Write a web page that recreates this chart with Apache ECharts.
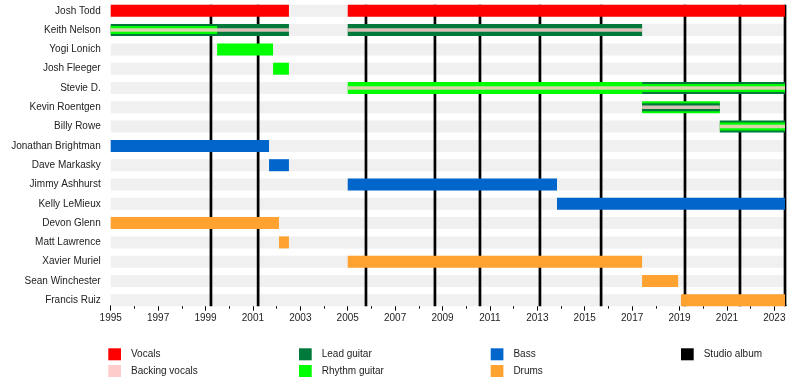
<!DOCTYPE html>
<html>
<head>
<meta charset="utf-8">
<script src="https://cdn.jsdelivr.net/npm/echarts@6/dist/echarts.min.js"></script>
<style>
html,body{margin:0;padding:0;background:#fff;}
#chart{width:800px;height:385px;}
</style>
</head>
<body>
<div id="chart"></div>
<script>
// ---- data ----
const members = ["Josh Todd","Keith Nelson","Yogi Lonich","Josh Fleeger","Stevie D.","Kevin Roentgen","Billy Rowe","Jonathan Brightman","Dave Markasky","Jimmy Ashhurst","Kelly LeMieux","Devon Glenn","Matt Lawrence","Xavier Muriel","Sean Winchester","Francis Ruiz"];
const yearMin = 1995;
const yearMax = 2023.5;
const tickLabels = [1995,1997,1999,2001,2003,2005,2007,2009,2011,2013,2015,2017,2019,2021,2023];
const minorTicks = [1996,1998,2000,2002,2004,2006,2008,2010,2012,2014,2016,2018,2020,2022];
const vocals = [["Josh Todd",1995,2002.52],["Josh Todd",2005,2023.45]];
const leadGuitar = [["Keith Nelson",1995,2002.52],["Keith Nelson",2005,2017.42],["Stevie D.",2017.42,2023.45],["Billy Rowe",2020.7,2023.45]];
const rhythmGuitar = [["Yogi Lonich",1999.49,2001.85],["Josh Fleeger",2001.85,2002.52],["Stevie D.",2005,2017.42],["Kevin Roentgen",2017.42,2020.7]];
const leadGuitarSecondary = [["Kevin Roentgen",2017.42,2020.7]];
const rhythmGuitarSecondary = [["Keith Nelson",1995,1999.49],["Stevie D.",2017.42,2023.45],["Billy Rowe",2020.7,2023.45]];
const backingVocals = [["Keith Nelson",1995,2002.52],["Keith Nelson",2005,2017.42],["Stevie D.",2005,2023.45],["Kevin Roentgen",2017.42,2020.7],["Billy Rowe",2020.7,2023.45]];
const bass = [["Jonathan Brightman",1995,2001.68],["Dave Markasky",2001.68,2002.52],["Jimmy Ashhurst",2005,2013.83],["Kelly LeMieux",2013.83,2023.45]];
const drums = [["Devon Glenn",1995,2002.1],["Matt Lawrence",2002.1,2002.52],["Xavier Muriel",2005,2017.42],["Sean Winchester",2017.42,2018.94],["Francis Ruiz",2019.06,2023.45]];
const studioAlbums = [1999.23,2001.22,2005.77,2008.68,2010.58,2013.11,2015.69,2019.23,2021.55,2023.45];

// ---- styles ----
const COLORS = {
  vocals:'#FF0000', backing:'#FFCCCC', lead:'#007A3A', rhythm:'#00FF00',
  bass:'#0066CC', drums:'#FFA230', album:'#000000', band:'#F0F0F0'
};
const BAR_H = 12, INNER_H = 8, BACK_H = 3.5;
const FONT = "'Liberation Sans', Arial, sans-serif";

function barSeries(name, data, color, h, z, fillOverride){
  return {
    type:'custom', name:name, data:data, z:z, encode:{x:[1,2], y:0},
    itemStyle:{color:color}, silent:true,
    renderItem:function(params, api){
      const c = api.value(0);
      const p0 = api.coord([api.value(1), c]);
      const p1 = api.coord([api.value(2), c]);
      return {type:'rect', shape:{x:p0[0], y:p0[1]-h/2, width:p1[0]-p0[0], height:h},
              style:{fill:fillOverride || color}};
    }
  };
}

const bandSeries = {
  type:'custom', name:'bands', z:1, silent:true,
  data: members.map(m => [m, yearMin, yearMax]),
  encode:{x:[1,2], y:0},
  renderItem:function(params, api){
    const c = api.value(0);
    const p0 = api.coord([api.value(1), c]);
    const p1 = api.coord([api.value(2), c]);
    return {type:'rect', shape:{x:p0[0], y:p0[1]-BAR_H/2, width:p1[0]-p0[0], height:BAR_H}, style:{fill:COLORS.band}};
  }
};

const albumSeries = {
  type:'custom', name:'Studio album', z:2, silent:true,
  itemStyle:{color:COLORS.album},
  data: studioAlbums.map(y => [y, members[0]]),
  encode:{x:0, y:1},
  renderItem:function(params, api){
    const x = api.value(0);
    const top = api.coord([x, 0]);
    const bot = api.coord([x, members.length-1]);
    return {type:'line', shape:{x1:top[0], y1:top[1]-BAR_H/2, x2:bot[0], y2:bot[1]+BAR_H/2},
            style:{stroke:COLORS.album, lineWidth:2.7}};
  }
};

const series = [
  bandSeries,
  albumSeries,
  barSeries('Vocals', vocals, COLORS.vocals, BAR_H, 3),
  barSeries('Lead guitar', leadGuitar, COLORS.lead, BAR_H, 3),
  barSeries('Rhythm guitar', rhythmGuitar, COLORS.rhythm, BAR_H, 3),
  barSeries('Bass', bass, COLORS.bass, BAR_H, 3),
  barSeries('Drums', drums, COLORS.drums, BAR_H, 3),
  barSeries('Lead guitar', leadGuitarSecondary, COLORS.lead, INNER_H, 4),
  barSeries('Rhythm guitar', rhythmGuitarSecondary, COLORS.rhythm, INNER_H, 4),
  barSeries('Backing vocals', backingVocals, COLORS.backing, BACK_H, 5, 'rgba(255,204,204,0.85)')
];

function legendCol(left, names){
  return {
    left:left, top:348.3, orient:'vertical', icon:'rect',
    itemWidth:12.7, itemHeight:12, itemGap:4.7, padding:0,
    selectedMode:false,
    textStyle:{fontSize:10, color:'#222', fontFamily:FONT, padding:[0,0,0,5]},
    data:names
  };
}

const chart = echarts.init(document.getElementById('chart'), null, {renderer:'canvas'});
chart.setOption({
  animation:false,
  backgroundColor:'#fff',
  textStyle:{fontFamily:FONT},
  grid:{left:110.7, top:1.15, width:675.5, height:308.8, containLabel:false},
  xAxis:[{
    type:'value', min:yearMin, max:yearMax, position:'bottom', offset:-4.3,
    axisLine:{show:true, lineStyle:{color:'#000', width:1}},
    axisTick:{show:true, length:5, lineStyle:{color:'#000'}, customValues:tickLabels},
    axisLabel:{show:true, fontSize:10, color:'#222', margin:8, fontFamily:FONT, customValues:tickLabels,
      formatter:function(v){return String(v);}},
    splitLine:{show:false}
  },{
    type:'value', min:yearMin, max:yearMax, position:'bottom', offset:-4.3,
    axisLine:{show:false},
    axisTick:{show:true, length:3, lineStyle:{color:'#000'}, customValues:minorTicks},
    axisLabel:{show:false},
    splitLine:{show:false}
  }],
  yAxis:{
    type:'category', data:members, inverse:true,
    axisLine:{show:false}, axisTick:{show:false}, splitLine:{show:false},
    axisLabel:{fontSize:10, color:'#222', margin:10, fontFamily:FONT}
  },
  legend:[
    legendCol(108.3, ['Vocals','Backing vocals']),
    legendCol(299, ['Lead guitar','Rhythm guitar']),
    legendCol(490.7, ['Bass','Drums']),
    legendCol(681, ['Studio album'])
  ],
  series:series
});
</script>
</body>
</html>
